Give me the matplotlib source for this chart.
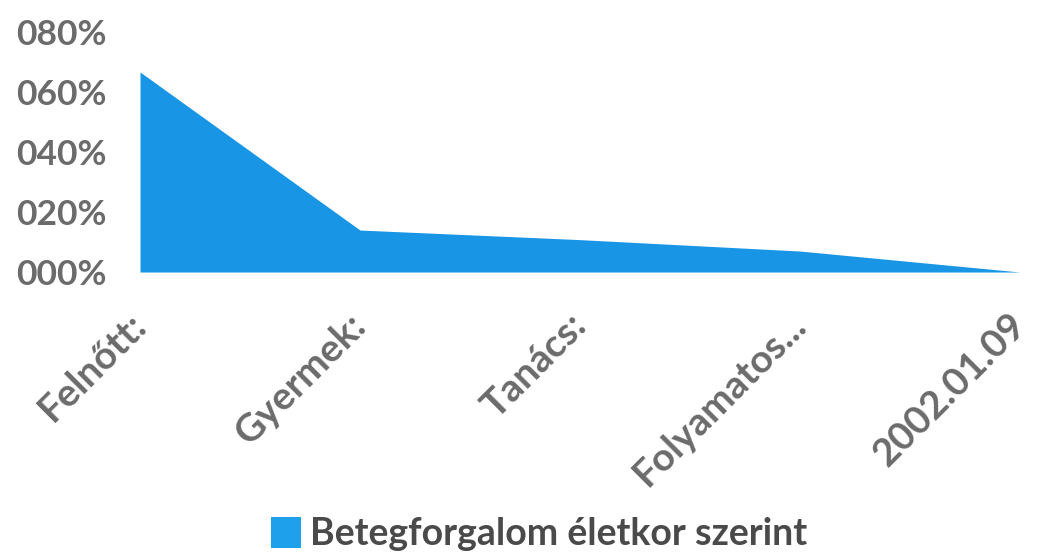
import matplotlib.pyplot as plt
from matplotlib.patches import Patch
from matplotlib.ticker import FuncFormatter

categories = ['Felnőtt:', 'Gyermek:', 'Tanács:', 'Folyamatos...', '2002.01.09']
values = [0.667, 0.14, 0.108, 0.07, 0.0]
series_name = 'Betegforgalom életkor szerint'
yticks = [0.0, 0.2, 0.4, 0.6, 0.8]

blue = '#1895e5'
gray = '#6b6b6b'

fig = plt.figure(figsize=(10.41, 5.58), dpi=100)
ax = fig.add_axes([0.1345, 0.5125, 0.8453, 0.430])

x = list(range(len(categories)))
ax.fill_between(x, 0, values, color=blue, linewidth=0)

ax.set_xlim(0, len(categories) - 1)
ax.set_ylim(0, 0.8)
ax.set_yticks(yticks)
ax.yaxis.set_major_formatter(FuncFormatter(lambda v, p: '%03d%%' % round(v * 100)))
ax.set_xticks(x)
ax.set_xticklabels(categories, rotation=45, ha='right', va='center', rotation_mode='anchor')

for lab in ax.get_yticklabels():
    lab.set_fontfamily('Lato')
    lab.set_fontweight('bold')
    lab.set_fontsize(25.5)
    lab.set_color(gray)
for lab in ax.get_xticklabels():
    lab.set_fontfamily('Lato')
    lab.set_fontweight('bold')
    lab.set_fontsize(28)
    lab.set_color(gray)

ax.tick_params(axis='both', length=0)
ax.tick_params(axis='y', pad=24)
ax.tick_params(axis='x', pad=34)
for s in ax.spines.values():
    s.set_visible(False)

handle = Patch(facecolor='#1ea0ea', edgecolor='none')
fig.legend([handle], [series_name], loc='center', bbox_to_anchor=(0.518, 0.043),
           frameon=False, handlelength=0.8, handleheight=0.9, handletextpad=0.25,
           prop={'family': 'Lato', 'weight': 'bold', 'size': 27}, labelcolor='#4a4a4a')

fig.savefig('out.png', dpi=100)
